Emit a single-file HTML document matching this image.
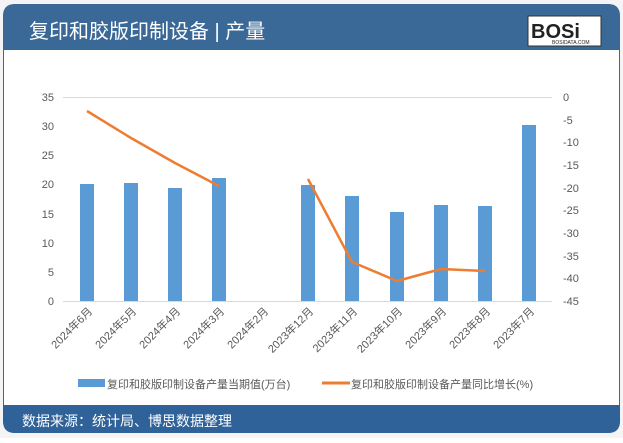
<!DOCTYPE html>
<html><head><meta charset="utf-8"><style>
body{margin:0;width:623px;height:438px;background:#fff;overflow:hidden;font-family:"Liberation Sans","Noto Sans CJK SC",sans-serif}
</style></head><body>
<svg width="623" height="438" xmlns="http://www.w3.org/2000/svg" font-family="Liberation Sans, Noto Sans CJK SC, sans-serif">
<rect x="0" y="0" width="623" height="438" fill="#f4f4f4"/>
<rect x="3.5" y="4.5" width="616" height="428" rx="12" fill="#fff" stroke="#3a6897"/>
<path d="M3 50 V16 Q3 4 15 4 H608 Q620 4 620 16 V50 Z" fill="#3a6897"/>
<path d="M3 405 H620 V421 Q620 433 608 433 H15 Q3 433 3 421 Z" fill="#2f6299"/>
<text x="29" y="38" font-size="20" fill="#fff">复印和胶版印制设备 | 产量</text>
<rect x="528" y="16" width="73" height="30" fill="#fff" stroke="#333"/>
<text x="531" y="38" font-size="20" font-weight="bold" fill="#222">BOSi</text>
<text x="552" y="44" font-size="5" fill="#222">BOSIDATA.COM</text>
<text x="22" y="426" font-size="14" fill="#fff">数据来源：统计局、博思数据整理</text>
<g stroke="#d9d9d9">
<line x1="63" y1="97.5" x2="552" y2="97.5"/><line x1="63" y1="301.5" x2="552" y2="301.5"/>
</g>
<g font-size="11" fill="#595959" text-anchor="end">
<text x="54" y="101">35</text><text x="54" y="130">30</text><text x="54" y="159">25</text><text x="54" y="188">20</text><text x="54" y="218">15</text><text x="54" y="247">10</text><text x="54" y="276">5</text><text x="54" y="305">0</text>
</g>
<g font-size="11" fill="#595959" text-anchor="start">
<text x="563" y="101">0</text><text x="563" y="124">-5</text><text x="563" y="146">-10</text><text x="563" y="169">-15</text><text x="563" y="192">-20</text><text x="563" y="214">-25</text><text x="563" y="237">-30</text><text x="563" y="260">-35</text><text x="563" y="282">-40</text><text x="563" y="305">-45</text>
</g>
<g fill="#5b9bd5">
<rect x="80" y="184" width="14" height="117"/>
<rect x="124" y="183" width="14" height="118"/>
<rect x="168" y="188" width="14" height="113"/>
<rect x="212" y="178" width="14" height="123"/>
<rect x="301" y="185" width="14" height="116"/>
<rect x="345" y="196" width="14" height="105"/>
<rect x="390" y="212" width="14" height="89"/>
<rect x="434" y="205" width="14" height="96"/>
<rect x="478" y="206" width="14" height="95"/>
<rect x="522" y="125" width="14" height="176"/>
</g>
<g fill="none" stroke="#ed7d31" stroke-width="2.5" stroke-linejoin="round">
<polyline points="87,111 131,138 175,163 219,186"/>
<polyline points="308,179 352,262 397,281 441,269 485,271"/>
</g>
<g font-size="11" fill="#595959" text-anchor="end">
<text transform="translate(93,312) rotate(-45)">2024年6月</text>
<text transform="translate(137,312) rotate(-45)">2024年5月</text>
<text transform="translate(181,312) rotate(-45)">2024年4月</text>
<text transform="translate(225,312) rotate(-45)">2024年3月</text>
<text transform="translate(269,312) rotate(-45)">2024年2月</text>
<text transform="translate(314,312) rotate(-45)">2023年12月</text>
<text transform="translate(358,312) rotate(-45)">2023年11月</text>
<text transform="translate(403,312) rotate(-45)">2023年10月</text>
<text transform="translate(447,312) rotate(-45)">2023年9月</text>
<text transform="translate(491,312) rotate(-45)">2023年8月</text>
<text transform="translate(535,312) rotate(-45)">2023年7月</text>
</g>
<rect x="78" y="379" width="27" height="8" fill="#5b9bd5"/>
<text x="107" y="388" font-size="11" fill="#595959">复印和胶版印制设备产量当期值(万台)</text>
<line x1="322" y1="383" x2="350" y2="383" stroke="#ed7d31" stroke-width="3"/>
<text x="351" y="388" font-size="11" fill="#595959">复印和胶版印制设备产量同比增长(%)</text>
</svg>
</body></html>
